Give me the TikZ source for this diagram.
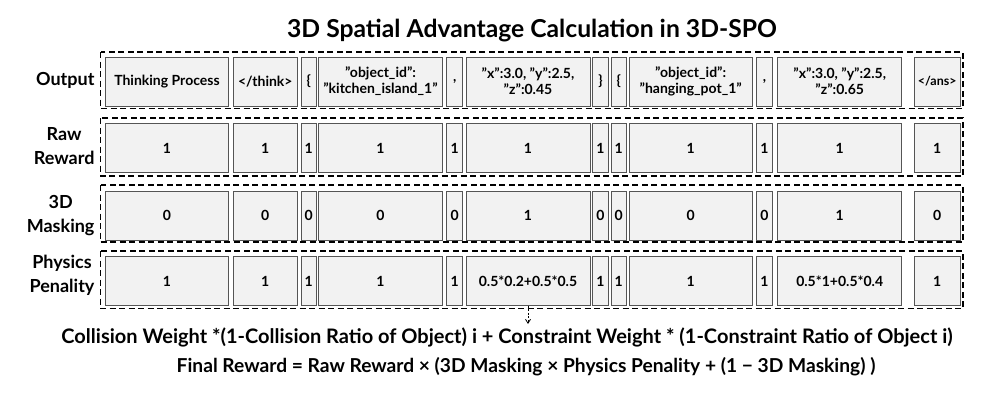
\documentclass[tikz,border=0pt]{standalone}
\usepackage{fontspec}
\setmainfont{Lato}
\usetikzlibrary{arrows.meta}
\definecolor{cellfill}{HTML}{F2F2F2}
\definecolor{cellline}{HTML}{555555}

\begin{document}
\begin{tikzpicture}[x=1pt,y=-1pt,line cap=butt,line join=miter,
  cell/.style={draw=cellline,fill=cellfill,line width=.9pt,inner sep=0pt,
    minimum height=49pt,align=center,font=\fontsize{14}{16}\selectfont\bfseries},
  rowframe/.style={line width=1.6pt,dash pattern=on 6pt off 3.5pt},
  rowlabel/.style={anchor=east,align=center,font=\fontsize{18}{24}\selectfont\bfseries},
  formula/.style={font=\fontsize{20}{22}\selectfont\bfseries}]
  \useasboundingbox (0,0) rectangle (997,397);

  \node[font=\fontsize{24.7}{30}\selectfont\bfseries] (title) at (532,31)
    {3D Spatial Advantage Calculation in 3D-SPO};

  % row frames
  \draw[rowframe] (100.5,52) rectangle (963,108.5);
  \draw[rowframe] (100.5,118) rectangle (963,176);
  \draw[rowframe] (100.5,185) rectangle (963,242);
  \draw[rowframe] (100.5,251) rectangle (963,308.5);

  \node[rowlabel] (outlabel) at (98,80) {Output};
  \node[rowlabel] (rawlabel) at (98,146) {Raw\\Reward};
  \node[rowlabel] (masklabel) at (98,216) {3D\\Masking};
  \node[rowlabel] (penlabel) at (98,275) {Physics\\Penality};

  % output tokens
  \node[cell,minimum width=122.6pt] (out1) at (167,81.5) {Thinking Process};
  \node[cell,minimum width=64.7pt] (out2) at (265.3,81.5) {</think>};
  \node[cell,minimum width=15.7pt] (out3) at (308.8,81.5) {\{};
  \node[cell,minimum width=123.6pt] (out4) at (380.5,81.5) {"object\_id":\\"kitchen\_island\_1"};
  \node[cell,minimum width=16pt] (out5) at (454.7,81.5) {,};
  \node[cell,minimum width=124pt] (out6) at (528,81.5) {"x":3.0, "y":2.5,\\"z":0.45};
  \node[cell,minimum width=15.6pt] (out7) at (600.5,81.5) {\}};
  \node[cell,minimum width=15.7pt] (out8) at (618.8,81.5) {\{};
  \node[cell,minimum width=123.3pt] (out9) at (690.7,81.5) {"object\_id":\\"hanging\_pot\_1"};
  \node[cell,minimum width=15.6pt] (out10) at (764.5,81.5) {,};
  \node[cell,minimum width=124pt] (out11) at (839.7,81.5) {"x":3.0, "y":2.5,\\"z":0.65};
  \node[cell,minimum width=45.7pt,font=\fontsize{12.5}{14}\selectfont\bfseries] (out12) at (937.2,81.5) {</ans>};

  % raw reward
  \node[cell,minimum width=122.6pt] (raw1) at (167,148) {1};
  \node[cell,minimum width=64.7pt] (raw2) at (265.3,148) {1};
  \node[cell,minimum width=15.7pt] (raw3) at (308.8,148) {1};
  \node[cell,minimum width=123.6pt] (raw4) at (380.5,148) {1};
  \node[cell,minimum width=16pt] (raw5) at (454.7,148) {1};
  \node[cell,minimum width=124pt] (raw6) at (528,148) {1};
  \node[cell,minimum width=15.6pt] (raw7) at (600.5,148) {1};
  \node[cell,minimum width=15.7pt] (raw8) at (618.8,148) {1};
  \node[cell,minimum width=123.3pt] (raw9) at (690.7,148) {1};
  \node[cell,minimum width=15.6pt] (raw10) at (764.5,148) {1};
  \node[cell,minimum width=124pt] (raw11) at (839.7,148) {1};
  \node[cell,minimum width=45.7pt] (raw12) at (937.2,148) {1};

  % 3d masking
  \node[cell,minimum width=122.6pt] (mask1) at (167,215.5) {0};
  \node[cell,minimum width=64.7pt] (mask2) at (265.3,215.5) {0};
  \node[cell,minimum width=15.7pt] (mask3) at (308.8,215.5) {0};
  \node[cell,minimum width=123.6pt] (mask4) at (380.5,215.5) {0};
  \node[cell,minimum width=16pt] (mask5) at (454.7,215.5) {0};
  \node[cell,minimum width=124pt] (mask6) at (528,215.5) {1};
  \node[cell,minimum width=15.6pt] (mask7) at (600.5,215.5) {0};
  \node[cell,minimum width=15.7pt] (mask8) at (618.8,215.5) {0};
  \node[cell,minimum width=123.3pt] (mask9) at (690.7,215.5) {0};
  \node[cell,minimum width=15.6pt] (mask10) at (764.5,215.5) {0};
  \node[cell,minimum width=124pt] (mask11) at (839.7,215.5) {1};
  \node[cell,minimum width=45.7pt] (mask12) at (937.2,215.5) {0};

  % physics penality
  \node[cell,minimum width=122.6pt] (pen1) at (167,281) {1};
  \node[cell,minimum width=64.7pt] (pen2) at (265.3,281) {1};
  \node[cell,minimum width=15.7pt] (pen3) at (308.8,281) {1};
  \node[cell,minimum width=123.6pt] (pen4) at (380.5,281) {1};
  \node[cell,minimum width=16pt] (pen5) at (454.7,281) {1};
  \node[cell,minimum width=124pt] (pen6) at (528,281) {0.5*0.2+0.5*0.5};
  \node[cell,minimum width=15.6pt] (pen7) at (600.5,281) {1};
  \node[cell,minimum width=15.7pt] (pen8) at (618.8,281) {1};
  \node[cell,minimum width=123.3pt] (pen9) at (690.7,281) {1};
  \node[cell,minimum width=15.6pt] (pen10) at (764.5,281) {1};
  \node[cell,minimum width=124pt] (pen11) at (839.7,281) {0.5*1+0.5*0.4};
  \node[cell,minimum width=45.7pt] (pen12) at (937.2,281) {1};

  \coordinate (penend) at (528,324);
  \draw[line width=.8pt,dash pattern=on 2pt off 1.5pt,-{Straight Barb[length=4pt,width=5pt]}]
    (pen6.south) -- (penend);

  \node[formula] (weights) at (507,337)
    {Collision Weight *(1-Collision Ratio of Object) i + Constraint Weight * (1-Constraint Ratio of Object i)};
  \node[formula,font=\fontsize{19.2}{22}\selectfont\bfseries] (final) at (526,367)
    {Final Reward = Raw Reward × (3D Masking × Physics Penality + (1 − 3D Masking) )};
\end{tikzpicture}
\end{document}
